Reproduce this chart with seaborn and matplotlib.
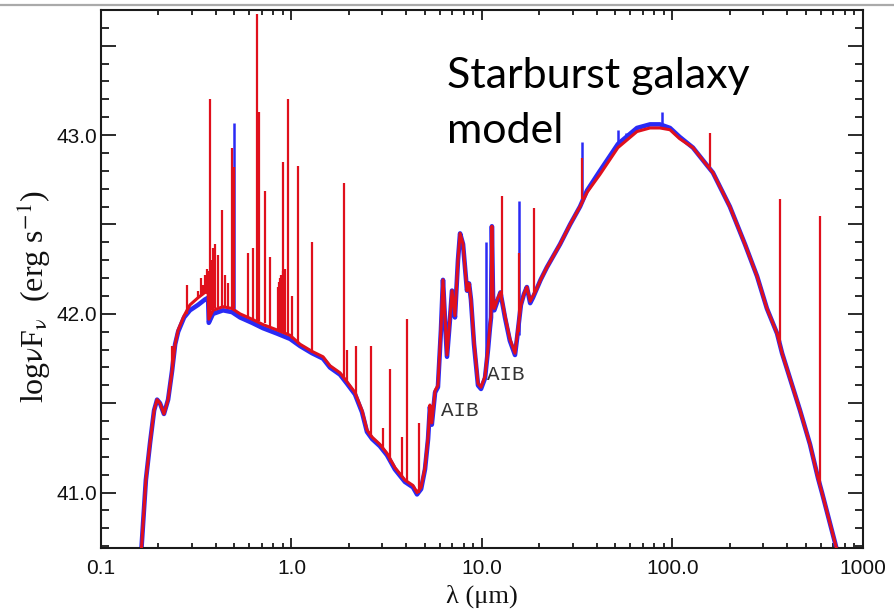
import matplotlib
matplotlib.use("Agg")
import matplotlib.pyplot as plt
from matplotlib.ticker import FixedLocator, MultipleLocator, FixedFormatter, FuncFormatter, LogLocator, NullFormatter
from matplotlib.lines import Line2D
import pandas as pd
import seaborn as sns

# ---------------- data ----------------
lam_um = [0.160, 0.172, 0.181, 0.190, 0.197, 0.204, 0.214, 0.225, 0.236, 0.245,
          0.254, 0.273, 0.293, 0.323, 0.351, 0.365, 0.368, 0.387, 0.437, 0.487,
          0.537, 0.621, 0.709, 0.839, 0.983, 1.109, 1.282, 1.463, 1.592, 1.798,
          1.955, 2.154, 2.345, 2.49, 2.65, 2.91, 3.17, 3.49, 3.94, 4.34,
          4.56, 4.79, 5.02, 5.21, 5.33, 5.45, 5.67, 5.87, 6.09, 6.24,
          6.39, 6.55, 6.79, 6.96, 7.21, 7.48, 7.67, 7.95, 8.34, 8.55,
          8.75, 9.08, 9.53, 9.88, 10.37, 10.75, 11.0, 11.15, 11.27, 11.42,
          11.6, 12.13, 12.5, 13.2, 14.0, 14.9, 15.3, 16.0, 16.6, 17.2,
          17.9, 18.5, 19.2, 20.3, 21.9, 25.7, 29.0, 32.7, 35.6, 41.6,
          51.7, 65.1, 76.2, 85.9, 97.0, 109, 128, 152, 163, 200,
          240, 278, 313, 354, 376, 467, 527, 581, 609, 713,
          760]
logf_blue = [40.55, 41.07, 41.28, 41.46, 41.52, 41.50, 41.44, 41.52, 41.68, 41.83,
             41.90, 41.98, 42.02, 42.05, 42.08, 42.09, 41.95, 42.00, 42.02, 42.01,
             41.98, 41.95, 41.92, 41.89, 41.86, 41.82, 41.78, 41.75, 41.70, 41.66,
             41.61, 41.55, 41.45, 41.34, 41.30, 41.26, 41.21, 41.13, 41.06, 41.03,
             40.99, 41.02, 41.13, 41.30, 41.48, 41.38, 41.56, 41.59, 41.91, 42.19,
             41.97, 41.76, 41.97, 42.13, 41.98, 42.30, 42.45, 42.39, 42.13, 42.17,
             42.08, 41.83, 41.60, 41.58, 41.64, 41.80, 41.92, 41.98, 42.49, 42.10,
             42.02, 42.08, 42.12, 41.98, 41.85, 41.77, 41.87, 42.05, 42.11, 42.15,
             42.06, 42.09, 42.13, 42.19, 42.26, 42.39, 42.50, 42.60, 42.69, 42.80,
             42.95, 43.04, 43.06, 43.06, 43.04, 42.99, 42.93, 42.83, 42.79, 42.60,
             42.39, 42.21, 42.03, 41.89, 41.78, 41.46, 41.27, 41.08, 41.00, 40.72,
             40.60]
logf_red = [40.55, 41.07, 41.28, 41.46, 41.52, 41.50, 41.44, 41.52, 41.68, 41.83,
            41.91, 41.99, 42.05, 42.09, 42.12, 42.12, 41.97, 42.02, 42.04, 42.03,
            42.00, 41.97, 41.94, 41.91, 41.88, 41.83, 41.79, 41.76, 41.71, 41.67,
            41.62, 41.56, 41.46, 41.35, 41.31, 41.27, 41.22, 41.14, 41.07, 41.04,
            41.00, 41.03, 41.14, 41.31, 41.49, 41.39, 41.57, 41.60, 41.92, 42.19,
            41.98, 41.77, 41.98, 42.13, 41.99, 42.30, 42.45, 42.39, 42.13, 42.17,
            42.08, 41.84, 41.61, 41.59, 41.65, 41.81, 41.93, 41.99, 42.49, 42.10,
            42.03, 42.09, 42.12, 41.99, 41.86, 41.78, 41.88, 42.05, 42.11, 42.15,
            42.07, 42.10, 42.13, 42.19, 42.26, 42.39, 42.50, 42.60, 42.68, 42.78,
            42.93, 43.02, 43.04, 43.04, 43.03, 42.98, 42.93, 42.83, 42.79, 42.60,
            42.39, 42.21, 42.03, 41.89, 41.78, 41.46, 41.27, 41.08, 41.00, 40.72,
            40.60]

# narrow emission lines of the red model: wavelength, foot, peak
red_line_lam = [0.236, 0.282, 0.323, 0.336, 0.343, 0.350, 0.355, 0.358, 0.361, 0.3635,
                0.3727, 0.3835, 0.3889, 0.3970, 0.4102, 0.4340, 0.4471, 0.4640, 0.4861, 0.4959,
                0.5007, 0.5876, 0.6300, 0.6563, 0.676, 0.726, 0.7751, 0.845, 0.862, 0.875,
                0.886, 0.901, 0.907, 0.923, 0.9532, 1.005, 1.083, 1.282, 1.875, 1.95,
                2.17, 2.62, 3.03, 3.29, 3.80, 4.05, 4.65, 12.81, 15.55, 18.71,
                33.5, 157.7, 365, 595]
red_line_base = [41.68, 42.00, 42.09, 42.10, 42.11, 42.12, 42.12, 42.12, 42.12, 42.12,
                 41.98, 42.02, 42.02, 42.03, 42.04, 42.04, 42.04, 42.04, 42.03, 42.03,
                 42.03, 41.98, 41.97, 41.96, 41.96, 41.95, 41.93, 41.91, 41.91, 41.91,
                 41.90, 41.90, 41.90, 41.90, 41.89, 41.86, 41.83, 41.78, 41.64, 41.62,
                 41.55, 41.31, 41.24, 41.17, 41.08, 41.06, 41.00, 42.10, 41.90, 42.10,
                 42.64, 42.82, 41.84, 41.05]
red_line_top = [41.82, 42.16, 42.13, 42.20, 42.16, 42.22, 42.18, 42.25, 42.20, 42.24,
                43.20, 42.30, 42.37, 42.39, 42.33, 42.58, 42.22, 42.17, 42.93, 42.70,
                42.82, 42.34, 42.37, 43.68, 43.13, 42.69, 42.32, 42.15, 42.18, 42.20,
                42.22, 42.24, 42.85, 42.25, 43.20, 42.10, 42.83, 42.40, 42.73, 41.80,
                41.82, 41.82, 41.36, 41.69, 41.31, 41.97, 41.39, 42.66, 42.34, 42.59,
                42.87, 43.01, 42.64, 42.55]

# lines where the blue model reaches higher
blue_line_lam = [0.5007, 10.51, 15.55, 33.5, 51.8, 57.3, 88.4]
blue_line_base = [42.02, 41.75, 41.88, 42.64, 42.94, 42.97, 43.05]
blue_line_top = [43.07, 42.40, 42.63, 42.96, 43.03, 43.01, 43.13]

x_tick_values = [0.1, 1.0, 10.0, 100.0, 1000.0]
x_tick_labels = ["0.1", "1.0", "10.0", "100.0", "1000"]
y_label_values = [41.0, 42.0, 43.0]

aib_lam = [6.09, 10.62]
aib_logf = [41.458, 41.659]

# ---------------- figure ----------------
sns.set_style("ticks")
plt.rcParams["font.family"] = ["Liberation Sans", "DejaVu Sans"]
plt.rcParams["mathtext.fontset"] = "stix"

W, H = 895, 611
fig = plt.figure(figsize=(W / 100, H / 100), dpi=100)
ax = fig.add_axes([101 / W, 1 - 548 / H, (863 - 101) / W, (548 - 10) / H])

blue_df = pd.DataFrame({"lam": lam_um, "logf": logf_blue})
red_df = pd.DataFrame({"lam": lam_um, "logf": logf_red})

BLUE = "#2a2af5"
RED = "#e0101c"

sns.lineplot(data=blue_df, x="lam", y="logf", ax=ax, color=BLUE, lw=3.3,
             estimator=None, sort=False, zorder=2)
ax.vlines(blue_line_lam, blue_line_base, blue_line_top, colors=BLUE, lw=1.8, zorder=2)
sns.lineplot(data=red_df, x="lam", y="logf", ax=ax, color=RED, lw=2.2,
             estimator=None, sort=False, zorder=3)
ax.vlines(red_line_lam, red_line_base, red_line_top, colors=RED, lw=1.6, zorder=3)

ax.set_xscale("log")
ax.set_xlim(0.1, 1000)
ax.set_ylim(40.69, 43.70)

ax.xaxis.set_major_locator(FixedLocator(x_tick_values))
ax.xaxis.set_major_formatter(FixedFormatter(x_tick_labels))
ax.xaxis.set_minor_locator(LogLocator(base=10, subs=[2, 3, 4, 5, 6, 7, 8, 9]))
ax.xaxis.set_minor_formatter(NullFormatter())

ax.yaxis.set_major_locator(MultipleLocator(0.5))
ax.yaxis.set_minor_locator(MultipleLocator(0.1))
ax.yaxis.set_major_formatter(FuncFormatter(
    lambda v, p: f"{v:.1f}" if any(abs(v - t) < 1e-6 for t in y_label_values) else ""))

ax.tick_params(axis="both", which="both", direction="in", top=True, right=True,
               color="#1a1a1a", width=1.3, labelsize=15, labelcolor="#111111")
ax.tick_params(axis="x", which="major", length=7, pad=8)
ax.tick_params(axis="x", which="minor", length=3.5)
ax.tick_params(axis="y", which="major", length=11, pad=3)
ax.tick_params(axis="y", which="minor", length=5.5)

for s in ax.spines.values():
    s.set_linewidth(1.5)
    s.set_color("#1a1a1a")
ax.set_xlabel("")
ax.set_ylabel("")

fig.text(482 / W, 1 - 603 / H, "λ (μm)", ha="center", va="baseline",
         fontsize=19, family=["Liberation Serif", "DejaVu Serif"], color="#111111")
fig.text(34 / W, 1 - 297 / H, r"log$\mathrm{\nu}$F$_{\mathrm{\nu}}$  (erg s$^{\mathrm{-1}}$)",
         rotation=90, ha="center", va="center", fontsize=23,
         family=["Liberation Serif", "DejaVu Serif"], color="#111111")

for lx, ly in zip(aib_lam, aib_logf):
    ax.text(lx, ly, "AIB", ha="left", va="center", fontsize=15,
            family=["Liberation Mono", "DejaVu Sans Mono"], color="#333333")

fig.text(447 / W, 1 - 88 / H, "Starburst galaxy", ha="left", va="baseline",
         fontsize=31, family=["Lato", "DejaVu Sans"], color="black")
fig.text(447 / W, 1 - 143 / H, "model", ha="left", va="baseline",
         fontsize=31, family=["Lato", "DejaVu Sans"], color="black")

fig.add_artist(Line2D([0, 1], [1 - 4.5 / H, 1 - 4.5 / H], transform=fig.transFigure,
                      color="#aaaaaa", lw=1.6))

fig.savefig("out.png", dpi=100)
